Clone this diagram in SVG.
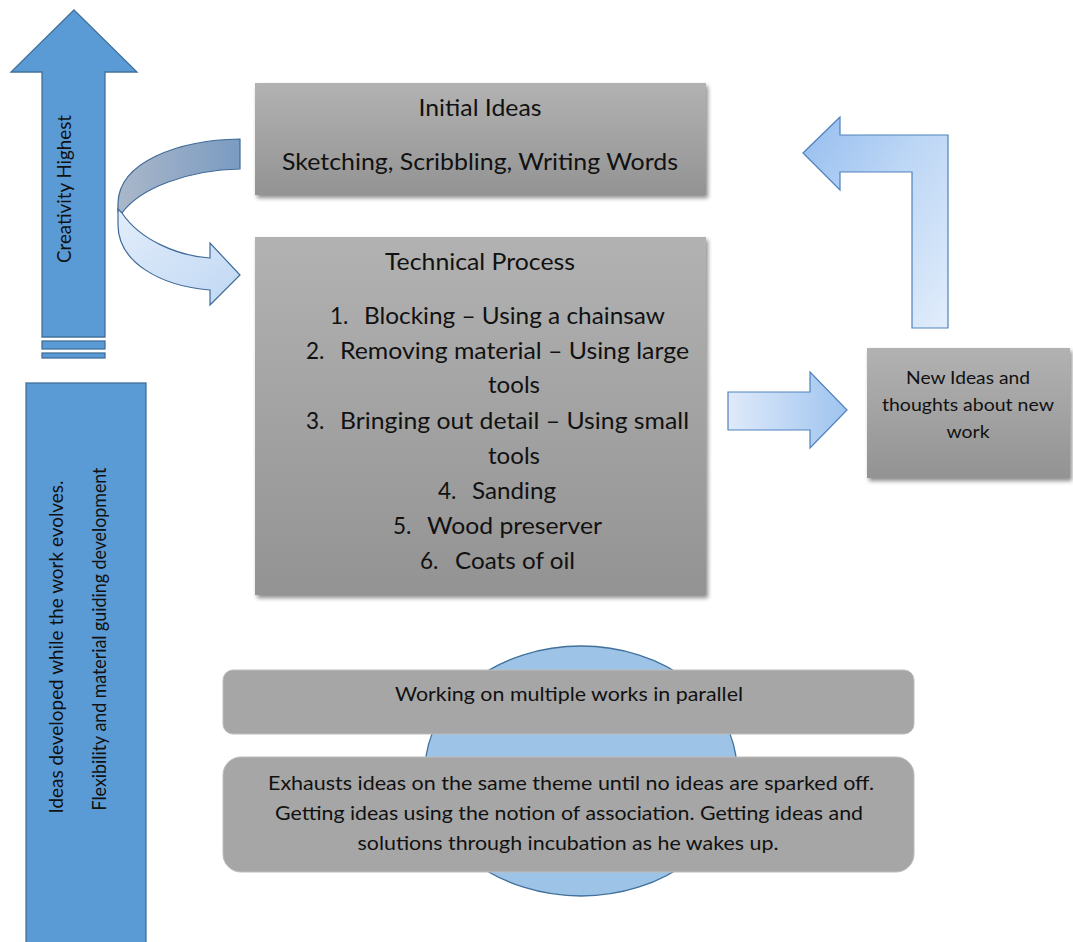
<svg xmlns="http://www.w3.org/2000/svg" width="1073" height="942" viewBox="0 0 1073 942">
  <style>
    text { font-family: Lato, "Open Sans", "Liberation Sans", sans-serif; fill: #111; }
    .big { font-size: 22.5px; }
    .small { font-size: 18px; }
    .mid { font-size: 19px; }
    .c { text-anchor: middle; }
    .box { fill: url(#gBox); filter: url(#shadow); }
    .flat { fill: #a6a6a6; stroke: #bdbdbd; stroke-width: 1; }
    .solid { fill: #5b9bd5; stroke: #41719c; stroke-width: 1.3; }
  </style>
  <defs>
    <linearGradient id="gBox" x1="0" y1="0" x2="0" y2="1">
      <stop offset="0" stop-color="#b2b2b2"/>
      <stop offset="1" stop-color="#939393"/>
    </linearGradient>
    <linearGradient id="gBent" x1="0" y1="0" x2="1" y2="1">
      <stop offset="0" stop-color="#95bdef"/>
      <stop offset="0.45" stop-color="#bcd6f5"/>
      <stop offset="1" stop-color="#e1edfb"/>
    </linearGradient>
    <linearGradient id="gRight" x1="0" y1="0" x2="1" y2="0">
      <stop offset="0" stop-color="#dfeafa"/>
      <stop offset="1" stop-color="#9ec4ef"/>
    </linearGradient>
    <linearGradient id="gBack" x1="0" y1="0" x2="1" y2="0">
      <stop offset="0" stop-color="#aab7c9"/>
      <stop offset="1" stop-color="#7b9bc2"/>
    </linearGradient>
    <linearGradient id="gFront" x1="0" y1="0" x2="1" y2="1">
      <stop offset="0" stop-color="#e2edfb"/>
      <stop offset="1" stop-color="#c0d8f3"/>
    </linearGradient>
    <filter id="shadow" x="-5%" y="-5%" width="112%" height="115%">
      <feDropShadow dx="2" dy="3" stdDeviation="2" flood-color="#000" flood-opacity="0.45"/>
    </filter>
  </defs>

  <!-- creativity arrow on the left -->
  <g id="creativity-arrow">
    <path class="solid" d="M74,10 L137,72 L105,72 L105,337 L42,337 L42,72 L11,72 Z"/>
    <rect class="solid" x="42" y="341" width="63" height="8"/>
    <rect class="solid" x="42" y="353" width="63" height="5"/>
    <text class="mid c" transform="translate(71,189) rotate(-90)" textLength="148" lengthAdjust="spacingAndGlyphs">Creativity Highest</text>
  </g>

  <!-- flexibility bar -->
  <g id="flexibility-bar">
    <rect class="solid" x="26" y="383" width="120" height="570"/>
    <text class="mid c" transform="translate(63,647) rotate(-90)" textLength="333" lengthAdjust="spacingAndGlyphs">Ideas developed while the work evolves.</text>
    <text class="mid c" transform="translate(106,639) rotate(-90)" textLength="343" lengthAdjust="spacingAndGlyphs">Flexibility and material guiding development</text>
  </g>

  <!-- ellipse behind the parallel-work boxes -->
  <g id="parallel-backdrop">
    <ellipse cx="581" cy="771" rx="156" ry="125" fill="#9dc3e6" stroke="#41719c" stroke-width="1.3"/>
  </g>

  <g id="initial-ideas">
    <rect class="box" x="255" y="83" width="451" height="112"/>
    <text class="big c" x="480" y="116" textLength="123" lengthAdjust="spacingAndGlyphs">Initial Ideas</text>
    <text class="big c" x="480" y="170" textLength="396" lengthAdjust="spacingAndGlyphs">Sketching, Scribbling, Writing Words</text>
  </g>

  <g id="technical-process">
    <rect class="box" x="255" y="237" width="451" height="358"/>
    <text class="big c" x="480" y="270" textLength="190" lengthAdjust="spacingAndGlyphs">Technical Process</text>
    <text class="big" x="330" y="324">1.</text>
    <text class="big" x="364" y="324" textLength="301" lengthAdjust="spacingAndGlyphs">Blocking – Using a chainsaw</text>
    <text class="big" x="306" y="359">2.</text>
    <text class="big" x="340" y="359" textLength="349" lengthAdjust="spacingAndGlyphs">Removing material – Using large</text>
    <text class="big" x="488" y="393" textLength="52" lengthAdjust="spacingAndGlyphs">tools</text>
    <text class="big" x="306" y="429">3.</text>
    <text class="big" x="340" y="429" textLength="349" lengthAdjust="spacingAndGlyphs">Bringing out detail – Using small</text>
    <text class="big" x="488" y="464" textLength="52" lengthAdjust="spacingAndGlyphs">tools</text>
    <text class="big" x="438" y="499">4.</text>
    <text class="big" x="472" y="499" textLength="84" lengthAdjust="spacingAndGlyphs">Sanding</text>
    <text class="big" x="393" y="534">5.</text>
    <text class="big" x="427" y="534" textLength="175" lengthAdjust="spacingAndGlyphs">Wood preserver</text>
    <text class="big" x="420" y="569">6.</text>
    <text class="big" x="455" y="569" textLength="120" lengthAdjust="spacingAndGlyphs">Coats of oil</text>
  </g>

  <g id="new-ideas">
    <rect class="box" x="867" y="348" width="203" height="130"/>
    <text class="small c" x="968" y="384" textLength="124" lengthAdjust="spacingAndGlyphs">New Ideas and</text>
    <text class="small c" x="968" y="411" textLength="172" lengthAdjust="spacingAndGlyphs">thoughts about new</text>
    <text class="small c" x="968" y="438" textLength="43" lengthAdjust="spacingAndGlyphs">work</text>
  </g>

  <g id="parallel-works">
    <rect class="flat" x="223" y="670" width="691" height="64" rx="10"/>
    <text class="mid c" x="569" y="701" textLength="348" lengthAdjust="spacingAndGlyphs">Working on multiple works in parallel</text>
  </g>

  <g id="idea-sources">
    <rect class="flat" x="223" y="757" width="691" height="115" rx="18"/>
    <text class="mid c" x="571" y="790" textLength="606" lengthAdjust="spacingAndGlyphs">Exhausts ideas on the same theme until no ideas are sparked off.</text>
    <text class="mid c" x="569" y="820" textLength="588" lengthAdjust="spacingAndGlyphs">Getting ideas using the notion of association. Getting ideas and</text>
    <text class="mid c" x="568" y="850" textLength="421" lengthAdjust="spacingAndGlyphs">solutions through incubation as he wakes up.</text>
  </g>

  <g id="connectors">
    <!-- curved arrow: initial ideas to technical process -->
    <path d="M240,139 C178,140 119,162 118,203 L118,212 L122,213 C140,188 188,170 240,169 Z" fill="url(#gBack)" stroke="#3f6a99" stroke-width="1.2"/>
    <path d="M122,213 C140,240 178,256 210,258 L210,243 L240,275 L210,305 L210,290 C160,286 118,262 118,225 L118,209 Z" fill="url(#gFront)" stroke="#3f6a99" stroke-width="1.2"/>
    <!-- technical process to new ideas -->
    <path d="M728,392 L810,392 L810,372 L847,410 L810,448 L810,430 L728,430 Z" fill="url(#gRight)" stroke="#4f81bd" stroke-width="1.2"/>
    <!-- new ideas back to initial ideas -->
    <path d="M803,153 L840,117 L840,135 L948,135 L948,328 L912,328 L912,172 L840,172 L840,190 Z" fill="url(#gBent)" stroke="#4f81bd" stroke-width="1.2"/>
  </g>
</svg>
